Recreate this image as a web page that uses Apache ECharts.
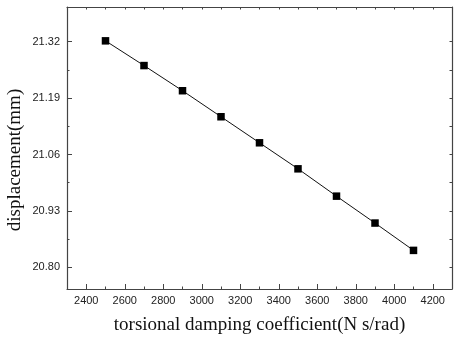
<!DOCTYPE html>
<html><head><meta charset="utf-8">
<script src="https://cdn.jsdelivr.net/npm/echarts@6/dist/echarts.min.js"></script>
<style>html,body{margin:0;padding:0;background:#fff}#c{width:454px;height:340px}</style>
</head><body><div id="c"></div>
<script>
const xValues = [2500, 2700, 2900, 3100, 3300, 3500, 3700, 3900, 4100];
const yValues = [21.322, 21.265, 21.207, 21.147, 21.087, 21.027, 20.964, 20.902, 20.839];
const xTickLabels = [2400, 2600, 2800, 3000, 3200, 3400, 3600, 3800, 4000, 4200];
const xMinorTicks = [2300, 2400, 2500, 2600, 2700, 2800, 2900, 3000, 3100, 3200, 3300, 3400, 3500, 3600, 3700, 3800, 3900, 4000, 4100, 4200, 4300];
const yTickLabels = [20.80, 20.93, 21.06, 21.19, 21.32];
const yMinorTicks = [20.865, 20.995, 21.125, 21.255];
const xName = 'torsional damping coefficient(N s/rad)';
const yName = 'displacement(mm)';

const chart = echarts.init(document.getElementById('c'), null, {renderer: 'canvas'});
const lineC = '#444';
const labelFont = {fontFamily: 'Liberation Sans, Arial', fontSize: 11, color: '#222'};
const X_MIN = 2300, X_MAX = 4300, Y_MIN = 20.75, Y_MAX = 21.40;

function xAx(pos, opts) {
  return Object.assign({
    type: 'value', position: pos, min: X_MIN, max: X_MAX,
    axisLine: {show: false}, splitLine: {show: false},
    axisLabel: {show: false}, axisTick: {show: false}
  }, opts);
}
function yAx(pos, opts) {
  return Object.assign({
    type: 'value', position: pos, min: Y_MIN, max: Y_MAX,
    axisLine: {show: false}, splitLine: {show: false},
    axisLabel: {show: false}, axisTick: {show: false}
  }, opts);
}

chart.setOption({
  animation: false,
  backgroundColor: '#fff',
  grid: {left: 67, right: 2, top: 7, bottom: 48, containLabel: false},
  xAxis: [
    xAx('bottom', {
      axisLine: {show: true, onZero: false, lineStyle: {color: lineC, width: 1.2}},
      axisTick: {show: true, inside: true, length: 5, customValues: xTickLabels, lineStyle: {color: lineC}},
      axisLabel: Object.assign({show: true, margin: 6, customValues: xTickLabels,
        formatter: v => String(Math.round(v))}, labelFont),
      name: xName, nameLocation: 'middle', nameGap: 27,
      nameTextStyle: {fontFamily: 'Liberation Serif, Times New Roman', fontSize: 19, color: '#111'}
    }),
    xAx('bottom', {
      axisTick: {show: true, inside: true, length: 2.5, customValues: xMinorTicks, lineStyle: {color: lineC}}
    }),
    xAx('top', {
      axisLine: {show: true, onZero: false, lineStyle: {color: lineC, width: 1.2}},
      axisTick: {show: true, inside: true, length: 2.5, customValues: xMinorTicks, lineStyle: {color: lineC}}
    })
  ],
  yAxis: [
    yAx('left', {
      axisLine: {show: true, onZero: false, lineStyle: {color: lineC, width: 1.2}},
      axisTick: {show: true, inside: true, length: 5, customValues: yTickLabels, lineStyle: {color: lineC}},
      axisLabel: Object.assign({show: true, margin: 7, customValues: yTickLabels,
        formatter: v => Number(v).toFixed(2)}, labelFont)
    }),
    yAx('left', {
      axisTick: {show: true, inside: true, length: 2.5, customValues: yMinorTicks, lineStyle: {color: lineC}}
    }),
    yAx('right', {
      axisLine: {show: true, onZero: false, lineStyle: {color: lineC, width: 1.2}},
      axisTick: {show: true, inside: true, length: 2.5, customValues: yTickLabels.concat(yMinorTicks), lineStyle: {color: lineC}}
    })
  ],
  graphic: [{
    type: 'text', x: 15, y: 160, rotation: Math.PI / 2,
    style: {text: yName, fontFamily: 'Liberation Serif, Times New Roman', fontSize: 19,
      fill: '#111', textAlign: 'center', textVerticalAlign: 'middle'}
  }],
  series: [{
    type: 'line', xAxisIndex: 0, yAxisIndex: 0,
    data: xValues.map((x, i) => [x, yValues[i]]),
    symbol: 'rect', symbolSize: 7.5,
    itemStyle: {color: '#000'},
    lineStyle: {color: '#111', width: 1},
    clip: false
  }]
});
</script>
</body></html>
